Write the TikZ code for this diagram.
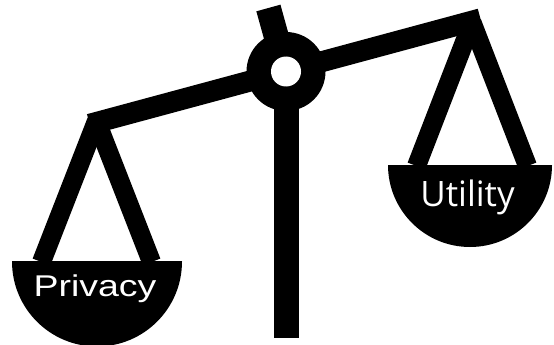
\documentclass[tikz,border=0pt]{standalone}
\usepackage{fontspec}
\setmainfont{Liberation Sans}
\newfontfamily\utilfont{Open Sans}
\begin{document}
\begin{tikzpicture}[x=1pt,y=-1pt,
  beam/.style={line width=21pt,line cap=butt},
  hanger/.style={line width=19pt,line cap=butt},
  post/.style={line width=25pt,line cap=butt},
  panlabel/.style={text=white,inner sep=0pt,anchor=base}]
\useasboundingbox (0,0) rectangle (554,345);
\clip (0,0) rectangle (554,345);

% key points of the balance
\coordinate (hub) at (286,71.5);
\coordinate (beamL) at (89.7,124.3);
\coordinate (beamR) at (480.5,18.9);
\coordinate (apexL) at (96.5,121);
\coordinate (apexR) at (472,22.5);
\coordinate (knobTop) at (268.4,8);
\coordinate (poleBot) at (286,338);
\coordinate (legLa) at (41.5,262);
\coordinate (legLb) at (151.5,262);
\coordinate (legRa) at (416.5,166);
\coordinate (legRb) at (527.5,166);

% hangers
\draw[hanger] (legLa) -- (apexL);
\draw[hanger] (legLb) -- (apexL);
\draw[hanger] (legRa) -- (apexR);
\draw[hanger] (legRb) -- (apexR);

% pans (half discs)
\begin{scope}
  \clip (0,261.5) rectangle (200,345);
  \fill (97,261.5) circle[radius=85pt];
\end{scope}
\begin{scope}
  \clip (370,165) rectangle (554,260);
  \fill (470,165) circle[radius=82pt];
\end{scope}

% beam, pole and top knob
\draw[beam] (beamL) -- (beamR);
\draw[post] (hub) -- (poleBot);
\draw[post] (hub) -- (knobTop);

% pivot
\fill (hub) circle[radius=39.5pt];
\fill[white] (hub) circle[radius=15pt];

% labels
\node[panlabel,font=\fontsize{30}{30}\selectfont,xscale=1.25] (privacy) at (95,296.7) {Privacy};
\node[panlabel,font=\utilfont\fontsize{35}{35}\selectfont] (utility) at (467.5,206.7) {Utility};
\end{tikzpicture}
\end{document}
